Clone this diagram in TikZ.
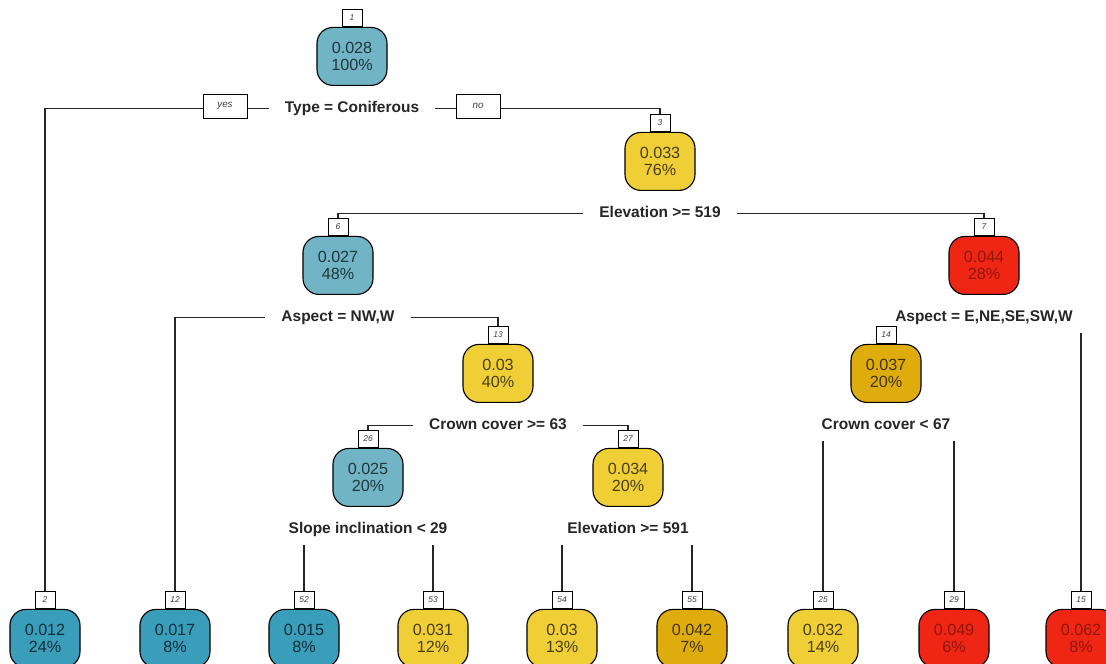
\documentclass[tikz,border=0pt]{standalone}
\usepackage{fontspec}
\setmainfont{Liberation Sans}
\usetikzlibrary{positioning}
\definecolor{treeblue}{RGB}{112,180,198}
\definecolor{treeteal}{RGB}{58,157,185}
\definecolor{treeyellow}{RGB}{240,206,54}
\definecolor{treegold}{RGB}{222,172,12}
\definecolor{treered}{RGB}{240,38,20}
\pgfdeclarelayer{edges}
\pgfdeclarelayer{labels}
\pgfsetlayers{edges,labels,main}

\begin{document}
\begin{tikzpicture}[
  x=0.025cm, y=-0.025cm,
  node distance=0.17cm,
  idbox/.style={
    draw, fill=white, line width=0.6pt, anchor=north,
    minimum width=0.5cm, minimum height=0.425cm, inner sep=1pt,
    font=\fontsize{6}{7}\selectfont\itshape, text=black!75
  },
  tnode/.style={
    draw, rounded corners=0.4cm, line width=0.8pt,
    minimum width=1.75cm, minimum height=1.45cm, align=center,
    font=\fontsize{11.5}{12.3}\selectfont
  },
  bluenode/.style={tnode, fill=treeblue, text=treeblue!30!black},
  tealnode/.style={tnode, fill=treeteal, text=treeteal!30!black},
  yellownode/.style={tnode, fill=treeyellow, text=treeyellow!30!black},
  goldnode/.style={tnode, fill=treegold, text=treegold!30!black},
  rednode/.style={tnode, fill=treered, text=treered!60!black},
  split/.style={
    fill=white, inner xsep=0.4cm, inner ysep=0.2cm,
    text height=8pt, text depth=2.5pt,
    font=\fontsize{11}{12}\selectfont\bfseries, text=black!85
  },
  yesno/.style={
    draw, fill=white, line width=0.6pt, minimum width=1.1cm,
    minimum height=0.6cm, inner sep=1pt,
    font=\fontsize{7}{8}\selectfont\itshape, text=black!75
  },
  edge/.style={line width=0.8pt, black!85}
]
\useasboundingbox (0,0) rectangle (1106,664);

% Internal nodes
\node[idbox] (id1) at (352,9) {1};
\node[bluenode, below=0pt of id1] (n1) {0.028\\100\%};
\node[idbox] (id3) at (660,114) {3};
\node[yellownode, below=0pt of id3] (n3) {0.033\\76\%};
\node[idbox] (id6) at (338,218) {6};
\node[bluenode, below=0pt of id6] (n6) {0.027\\48\%};
\node[idbox] (id7) at (984,218) {7};
\node[rednode, below=0pt of id7] (n7) {0.044\\28\%};
\node[idbox] (id13) at (498,326) {13};
\node[yellownode, below=0pt of id13] (n13) {0.03\\40\%};
\node[idbox] (id14) at (886,326) {14};
\node[goldnode, below=0pt of id14] (n14) {0.037\\20\%};
\node[idbox] (id26) at (368,430) {26};
\node[bluenode, below=0pt of id26] (n26) {0.025\\20\%};
\node[idbox] (id27) at (628,430) {27};
\node[yellownode, below=0pt of id27] (n27) {0.034\\20\%};

% Leaves
\node[idbox] (id2) at (45,591) {2};
\node[tealnode, below=0pt of id2] (n2) {0.012\\24\%};
\node[idbox] (id12) at (175,591) {12};
\node[tealnode, below=0pt of id12] (n12) {0.017\\8\%};
\node[idbox] (id52) at (304,591) {52};
\node[tealnode, below=0pt of id52] (n52) {0.015\\8\%};
\node[idbox] (id53) at (433,591) {53};
\node[yellownode, below=0pt of id53] (n53) {0.031\\12\%};
\node[idbox] (id54) at (562,591) {54};
\node[yellownode, below=0pt of id54] (n54) {0.03\\13\%};
\node[idbox] (id55) at (692,591) {55};
\node[goldnode, below=0pt of id55] (n55) {0.042\\7\%};
\node[idbox] (id25) at (823,591) {25};
\node[yellownode, below=0pt of id25] (n25) {0.032\\14\%};
\node[idbox] (id29) at (954,591) {29};
\node[rednode, below=0pt of id29] (n29) {0.049\\6\%};
\node[idbox] (id15) at (1081,591) {15};
\node[rednode, below=0pt of id15] (n15) {0.062\\8\%};

% Split labels
\begin{pgfonlayer}{labels}
\node[split, below=of n1] (s1) {Type = Coniferous};
\node[split, below=of n3] (s3) {Elevation >= 519};
\node[split, below=of n6] (s6) {Aspect = NW,W};
\node[split, below=of n7] (s7) {Aspect = E,NE,SE,SW,W};
\node[split, below=of n13] (s13) {Crown cover >= 63};
\node[split, below=of n14] (s14) {Crown cover < 67};
\node[split, below=of n26] (s26) {Slope inclination < 29};
\node[split, below=of n27] (s27) {Elevation >= 591};
\end{pgfonlayer}

% Branches
\begin{pgfonlayer}{edges}
\draw[edge] (s1.center) -| (id2.north);
\draw[edge] (s1.center) -| (id3.north);
\draw[edge] (s3.center) -| (id6.north);
\draw[edge] (s3.center) -| (id7.north);
\draw[edge] (s6.center) -| (id12.north);
\draw[edge] (s6.center) -| (id13.north);
\draw[edge] (s7.center) -| (id14.north);
\draw[edge] (s7.center) -| (id15.north);
\draw[edge] (s13.center) -| (id26.north);
\draw[edge] (s13.center) -| (id27.north);
\draw[edge] (s14.center) -| (id25.north);
\draw[edge] (s14.center) -| (id29.north);
\draw[edge] (s26.center) -| (id52.north);
\draw[edge] (s26.center) -| (id53.north);
\draw[edge] (s27.center) -| (id54.north);
\draw[edge] (s27.center) -| (id55.north);
\end{pgfonlayer}

% yes / no
\node[yesno] (yes) at (225,106) {yes};
\node[yesno] (no) at (478,106) {no};

\end{tikzpicture}
\end{document}
